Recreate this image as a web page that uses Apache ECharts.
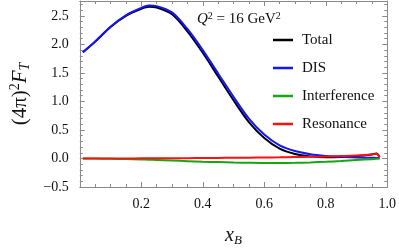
<!DOCTYPE html>
<html><head><meta charset="utf-8">
<script src="https://cdn.jsdelivr.net/npm/echarts@6/dist/echarts.min.js"></script>
<style>html,body{margin:0;padding:0;background:#fff}#c{width:399px;height:252px}</style>
</head><body><div id="c"></div>
<script>
var xs = [0.01,0.05,0.1,0.15,0.2,0.225,0.25,0.3,0.35,0.4,0.45,0.5,0.55,0.6,0.65,0.7,0.75,0.8,0.85,0.9,0.95,0.965,0.975];
var totalVals = [1.86,2.048,2.305,2.501,2.624,2.66,2.646,2.527,2.229,1.852,1.436,1.021,0.638,0.358,0.171,0.078,0.034,0.021,0.026,0.042,0.07,0.085,0.024];
var disVals = [1.86,2.05,2.31,2.51,2.64,2.68,2.67,2.56,2.27,1.90,1.49,1.08,0.70,0.42,0.23,0.13,0.075,0.045,0.028,0.018,0.012,0.01,0.008];
var interfVals = [0,-0.002,-0.005,-0.01,-0.018,-0.022,-0.027,-0.037,-0.047,-0.056,-0.064,-0.071,-0.076,-0.079,-0.079,-0.076,-0.069,-0.058,-0.044,-0.028,-0.012,-0.007,-0.004];
var resVals = [0,0,0,0.001,0.002,0.002,0.003,0.004,0.006,0.008,0.01,0.012,0.014,0.017,0.02,0.024,0.028,0.034,0.042,0.052,0.07,0.082,0.02];
var seriesNames = ['Total','DIS','Interference','Resonance'];
var seriesColors = ['#000000','#1414ff','#12a812','#ff1010'];
var xTicks = [0.2,0.4,0.6,0.8,1.0];
var yTicks = [-0.5,0.0,0.5,1.0,1.5,2.0,2.5];

function pairs(v){ return xs.map(function(x,i){ return [x, v[i]]; }); }
var allVals = [totalVals, disVals, interfVals, resVals];
var FONT = 'Liberation Serif';
var axisGray = '#8a8a8a';

function frameAxis(extra){
  var base = {
    axisLine:{show:true,onZero:false,lineStyle:{color:axisGray,width:1}},
    axisTick:{show:true,inside:true,length:5,lineStyle:{color:axisGray}},
    splitLine:{show:false}
  };
  for (var k in extra) base[k]=extra[k];
  return base;
}
function inList(list,v){ for (var i=0;i<list.length;i++){ if (Math.abs(list[i]-v)<1e-6) return true;} return false; }

var chart = echarts.init(document.getElementById('c'), null, {renderer:'canvas'});
chart.setOption({
  animation:false,
  backgroundColor:'#fff',
  grid:{left:68,right:11,top:1,bottom:54,containLabel:false},
  xAxis:[
    frameAxis({type:'value',min:0,max:1,interval:0.2,position:'bottom',
      minorTick:{show:true,splitNumber:4,length:3,lineStyle:{color:axisGray}},
      axisLabel:{show:true,margin:10,color:'#111',fontFamily:FONT,fontSize:14,
        formatter:function(v){ return inList(xTicks,v)? v.toFixed(1):''; }},
      name:'{i|x}{s|B}',nameLocation:'middle',nameGap:38,
      nameTextStyle:{rich:{i:{fontFamily:FONT,fontStyle:'italic',fontSize:20,color:'#111'},
                           s:{fontFamily:FONT,fontStyle:'italic',fontSize:13,color:'#111',padding:[9,0,0,0]}}}}),
    frameAxis({type:'value',min:0,max:1,interval:0.2,position:'top',
      minorTick:{show:true,splitNumber:4,length:3,lineStyle:{color:axisGray}},
      axisLabel:{show:false}})
  ],
  yAxis:[
    frameAxis({type:'value',min:-0.5,max:2.76,interval:0.5,position:'left',
      minorTick:{show:true,splitNumber:5,length:3,lineStyle:{color:axisGray}},
      axisLabel:{show:true,margin:11,color:'#111',fontFamily:FONT,fontSize:14,showMaxLabel:false,
        formatter:function(v){ return inList(yTicks,v)? v.toFixed(1).replace('-','\u2212'):''; }},
      name:'{n|(4\u03c0)}{p|2}{f|F}{s|T}',nameLocation:'middle',nameGap:42,nameRotate:90,
      nameTextStyle:{rich:{n:{fontFamily:FONT,fontSize:21,color:'#111'},
                           f:{fontFamily:FONT,fontStyle:'italic',fontSize:21,color:'#111'},
                           p:{fontFamily:FONT,fontSize:14,color:'#111',padding:[0,0,11,0]},
                           s:{fontFamily:FONT,fontStyle:'italic',fontSize:14,color:'#111',padding:[10,0,0,0]}}}}),
    frameAxis({type:'value',min:-0.5,max:2.76,interval:0.5,position:'right',
      minorTick:{show:true,splitNumber:5,length:3,lineStyle:{color:axisGray}},
      axisLabel:{show:false}})
  ],
  legend:{
    orient:'vertical',left:268,top:27,itemWidth:20,itemHeight:2.5,itemGap:12,icon:'rect',
    data:seriesNames,
    textStyle:{fontFamily:FONT,fontSize:15,color:'#111',lineHeight:16,padding:[0,0,0,4]}
  },
  graphic:[{
    type:'text',left:197,top:11,
    style:{text:'{i|Q}{p|2}{n| = 16 GeV}{p|2}',
      rich:{i:{fontFamily:FONT,fontStyle:'italic',fontSize:15,fill:'#111'},
            n:{fontFamily:FONT,fontSize:15,fill:'#111'},
            p:{fontFamily:FONT,fontSize:10,fill:'#111',padding:[0,0,7,0]}}}
  }],
  series: seriesNames.map(function(nm,i){
    return {name:nm,type:'line',data:pairs(allVals[i]),smooth:0.3,
      showSymbol:false,symbol:'none',lineStyle:{color:seriesColors[i],width:2},itemStyle:{color:seriesColors[i]},
      xAxisIndex:0,yAxisIndex:0,z:2+i};
  })
});
</script></body></html>
